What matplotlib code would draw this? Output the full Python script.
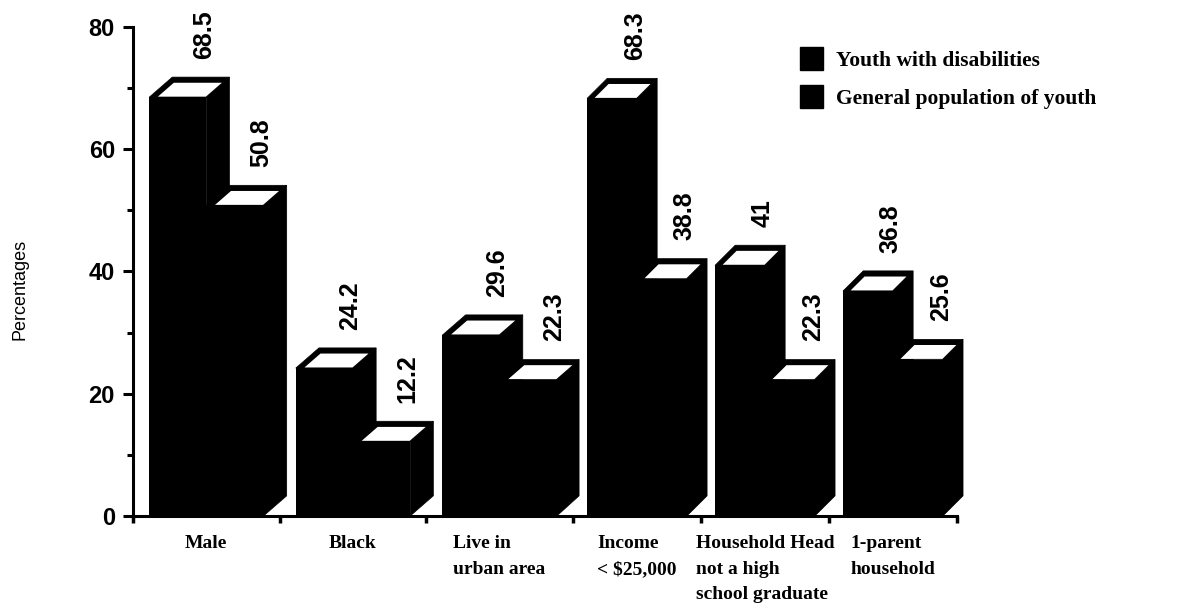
import matplotlib.pyplot as plt
import numpy as np
from matplotlib.patches import Polygon, Patch

# Characteristics of youth with disabilities vs general population of youth
categories = ["Male", "Black", "Live in\nurban area", "Income\n< $25,000",
              "Household Head\nnot a high\nschool graduate", "1-parent\nhousehold"]
youth_disab = [68.5, 24.2, 29.6, 68.3, 41, 36.8]
general_pop = [50.8, 12.2, 22.3, 38.8, 22.3, 25.6]
series_names = ["Youth with disabilities", "General population of youth"]

# the scanned chart is squeezed on the right half, so use a piecewise scale
def fwd(x):
    x = np.asarray(x, dtype=float)
    return np.where(x <= 3, x * 440.0 / 3, 440.0 + (x - 3) * 384.0 / 3)

def inv(p):
    p = np.asarray(p, dtype=float)
    return np.where(p <= 440, p * 3 / 440.0, 3 + (p - 440.0) * 3 / 384.0)

fig = plt.figure(figsize=(11.77, 6.09), dpi=100)
ax = fig.add_axes([0.113, 0.1527, 0.7, 0.803])
ax.set_xscale('function', functions=(fwd, inv))

off, w, dx, dy = 0.11, 0.39, 0.158, 3.3

for j, vals in enumerate([youth_disab, general_pop]):
    x0 = np.arange(len(categories)) + off + j * w
    ax.bar(x0, vals, width=w, align='edge', color='black', edgecolor='black',
           linewidth=0, label=series_names[j], clip_on=False, zorder=2 + j)

    for xl, h in zip(x0, vals):
        xr = xl + w
        side = Polygon([(xr, 0), (xr + dx, dy), (xr + dx, h + dy), (xr, h)],
                       closed=True, fc='black', ec='black', lw=0.5,
                       clip_on=False, zorder=2 + j)
        top = Polygon([(xl, h), (xr, h), (xr + dx, h + dy), (xl + dx, h + dy)],
                      closed=True, fc='black', ec='black', lw=0.5,
                      clip_on=False, zorder=2 + j)
        ax.add_patch(side)
        ax.add_patch(top)
        # white inset on the top face
        pts = []
        for u, v in [(0.14, 0.03), (0.98, 0.03), (0.98, 0.72), (0.14, 0.72)]:
            pts.append((xl + u * w + v * dx, h + v * dy))
        ax.add_patch(Polygon(pts, closed=True, fc='white', ec='none',
                             clip_on=False, zorder=2 + j))
        ax.text(xl + w / 2 + dx + 0.02, h + 6.3, f"{h:g}", rotation=90,
                ha='center', va='bottom', fontsize=18, fontweight='bold',
                family='Liberation Sans', color='black')

ax.set_xlim(0, 6)
ax.set_ylim(0, 80)

for s in ['top', 'right']:
    ax.spines[s].set_visible(False)
for s in ['left', 'bottom']:
    ax.spines[s].set_linewidth(2.2)

ax.set_yticks([0, 20, 40, 60, 80])
ax.set_yticks([10, 30, 50, 70], minor=True)
ax.tick_params(axis='y', which='major', length=7, width=2.2, pad=6,
               labelsize=17)
ax.tick_params(axis='y', which='minor', length=4, width=2.2)
for lb in ax.get_yticklabels():
    lb.set_fontweight('bold')
    lb.set_family('Liberation Sans')

ax.set_xticks(range(0, 7))
ax.set_xticklabels([])
ax.tick_params(axis='x', which='major', length=5, width=2.5)
ax.set_xticks(np.arange(len(categories)) + 0.5, categories, minor=True)
ax.tick_params(axis='x', which='minor', length=0, pad=14)
for lb in ax.get_xticklabels(minor=True):
    lb.set_family('Liberation Serif')
    lb.set_fontweight('bold')
    lb.set_fontsize(14)
    lb.set_multialignment('left')
    lb.set_linespacing(1.65)

ax.set_ylabel("Percentages", family='Liberation Sans', fontsize=13)
ax.yaxis.set_label_coords(-0.127, 0.464)

handles = [Patch(fc='black', ec='black') for _ in series_names]
fig.legend(handles, series_names, loc='upper left',
           bbox_to_anchor=(0.663, 0.955), frameon=False,
           prop={'family': 'Liberation Serif', 'weight': 'bold', 'size': 15.5},
           handlelength=1.1, handleheight=1.3, labelspacing=0.65,
           handletextpad=0.6)

plt.savefig('out.png', dpi=100)
plt.close(fig)
